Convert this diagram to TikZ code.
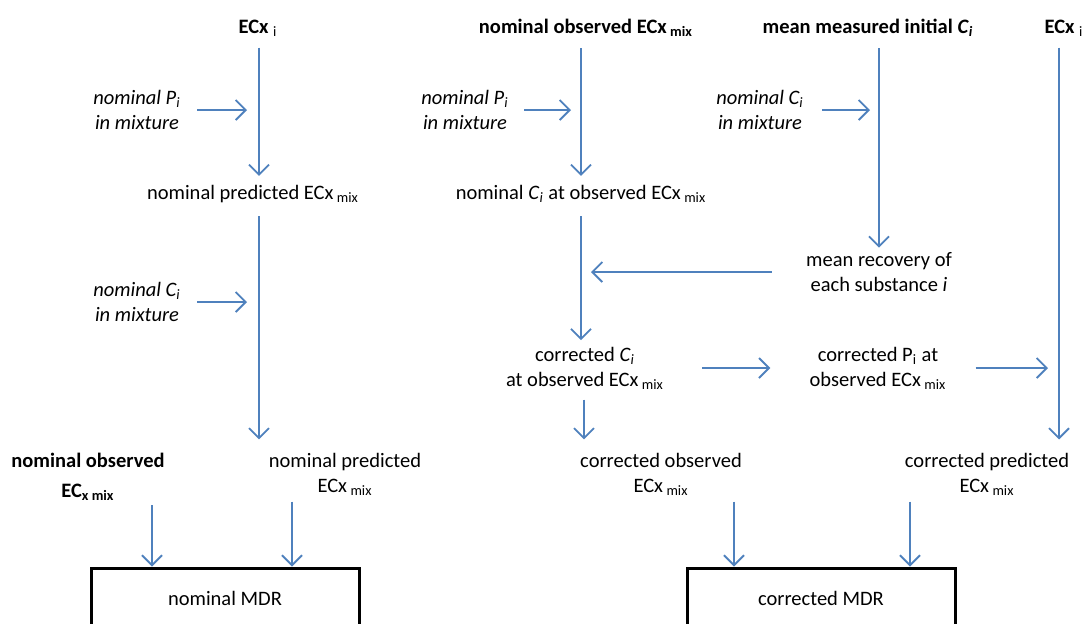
\documentclass[tikz,border=0pt]{standalone}
\usepackage{fontspec}
\setmainfont{Carlito}
\usetikzlibrary{arrows.meta}
\definecolor{arrblue}{RGB}{79,129,189}
\newcommand{\fs}{\fontsize{10.25}{12.5}\selectfont}
\newcommand{\low}[1]{\textsubscript{#1}}
\newcommand{\ci}{\textit{C}\textsubscript{\textit{i}}}

\begin{document}
\begin{tikzpicture}[x=0.5pt,y=-0.5pt,
		every node/.style={font=\fs, inner sep=0pt, align=center},
		hd/.style={font=\fs\bfseries},
		it/.style={font=\fs\itshape},
		arr/.style={draw=arrblue, line width=0.9pt, -{Straight Barb[length=5pt,width=10pt]}},
		mdr/.style={draw, line width=1.5pt, minimum width=134pt, minimum height=30pt}]
			\useasboundingbox (0,0) rectangle (1088,623);
			\clip (0,0) rectangle (1088,623);
			\foreach \n/\x in {ca/259, cb/581, ce/584, cc/879, cd/1059, la/152, lb/292, lc/734, ld/910}
				\coordinate (\n) at (\x,0);
			\node[hd] (ecxa) at (258,28) {ECx\ \low{\mdseries i}};
			\node[it] (pia) at (137,110) {nominal \textit{P}\low{\textit{i}}\\in mixture};
			\node (preda) at (253,194) {nominal predicted ECx\,\low{mix}};
			\node[it] (cia) at (137,302) {nominal \ci\\in mixture};
			\node[hd, font=\fontsize{10.25}{15}\selectfont\bfseries] (obsn) at (88,477) {nominal observed\\EC\low{x mix}};
			\node (predn) at (345,474) {nominal predicted\\ECx\,\low{mix}};
			\node[mdr] (mdrn) at (225,598) {nominal MDR};
			\node[hd] (obsb) at (586,28) {nominal observed ECx\,\low{mix}};
			\node[it] (pib) at (465,110) {nominal \textit{P}\low{\textit{i}}\\in mixture};
			\node (cib) at (581,194) {nominal \ci{} at observed ECx\,\low{mix}};
			\node (corrc) at (585,368) {corrected \ci\\at observed ECx\,\low{mix}};
			\node (obsc) at (661,474) {corrected observed\\ECx\,\low{mix}};
			\node[mdr] (mdrc) at (821,598) {corrected MDR};
			\node[hd] (meas) at (868,28) {mean measured initial \ci};
			\node[it] (cic) at (760,110) {nominal \ci\\in mixture};
			\node (recov) at (879,272) {mean recovery of\\each substance \textit{i}};
			\node (corrp) at (878,368) {corrected P\low{i} at\\observed ECx\,\low{mix}};
			\node[hd] (ecxd) at (1064,28) {ECx\ \low{\mdseries i}};
			\node (predc) at (987,474) {corrected predicted\\ECx\,\low{mix}};
			\draw[arr, shorten <=5.5pt, shorten >=4.5pt] (ecxa.south -| ca) -- (preda.north -| ca);
			\draw[arr, shorten <=8pt, shorten >=6pt] (pia) -- (pia -| ca);
			\draw[arr, shorten <=6.5pt, shorten >=6.5pt] (preda.south -| ca) -- (predn.north -| ca);
			\draw[arr, shorten <=8pt, shorten >=6pt] (cia) -- (cia -| ca);
			\draw[arr, shorten <=2pt] (obsn.south -| la) -- (mdrn.north -| la);
			\draw[arr, shorten <=3pt] (predn.south -| lb) -- (mdrn.north -| lb);
			\draw[arr, shorten <=5.5pt, shorten >=4.5pt] (obsb.south -| cb) -- (cib.north -| cb);
			\draw[arr, shorten <=7.5pt, shorten >=5pt] (pib) -- (pib -| cb);
			\draw[arr, shorten <=6.5pt, shorten >=3.2pt] (cib.south -| cb) -- (corrc.north -| cb);
			\draw[arr, shorten <=5.5pt, shorten >=2.2pt] (meas.south -| cc) -- (recov.north -| cc);
			\draw[arr, shorten <=9pt, shorten >=4.5pt] (cic) -- (cic -| cc);
			\draw[arr, shorten <=17pt, shorten >=5pt] (recov.west) -- (recov.west -| cb);
			\draw[arr, shorten <=19pt, shorten >=19.5pt] (corrc) -- (corrp);
			\draw[arr, shorten <=14.5pt, shorten >=5.5pt] (corrp) -- (corrp -| cd);
			\draw[arr, shorten <=5.5pt, shorten >=6.5pt] (ecxd.south -| cd) -- (predc.north -| cd);
			\draw[arr, shorten <=5pt, shorten >=6.5pt] (corrc.south -| ce) -- (obsc.north -| ce);
			\draw[arr, shorten <=3pt] (obsc.south -| lc) -- (mdrc.north -| lc);
			\draw[arr, shorten <=3pt] (predc.south -| ld) -- (mdrc.north -| ld);
		\end{tikzpicture}
\end{document}
